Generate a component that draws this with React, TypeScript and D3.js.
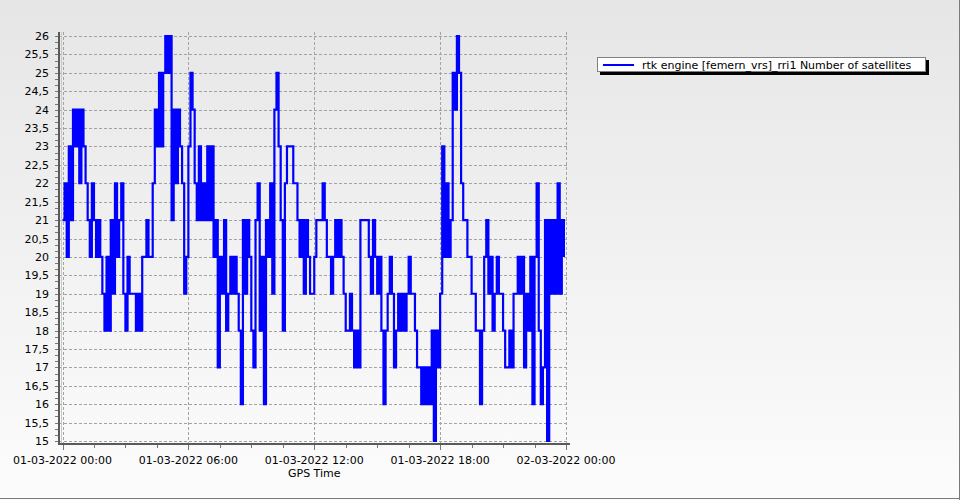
import { useEffect, useRef } from "react";
import * as d3 from "d3";

// GPS time axis: one sample every 6 minutes over 01-03-2022
const startTime = new Date(2022, 2, 1, 0, 0);
const endTime = new Date(2022, 2, 2, 0, 0);
const sampleMinutes = 6;

// rtk engine [femern_vrs]_rri1 number of satellites
const satellites = [
  21, 22, 20, 23, 21, 24, 23, 24, 22, 24,
  23, 22, 21, 20, 22, 21, 20, 21, 20, 19,
  18, 20, 18, 21, 19, 22, 20, 21, 22, 19,
  18, 20, 19, 19, 19, 18, 19, 18, 20, 20,
  21, 20, 20, 22, 24, 23, 25, 23, 25, 26,
  25, 26, 21, 24, 22, 24, 23, 22, 19, 20,
  23, 25, 24, 22, 21, 23, 21, 22, 21, 23,
  21, 23, 20, 21, 17, 20, 19, 21, 18, 19,
  20, 19, 20, 19, 18, 16, 21, 19, 21, 20,
  18, 17, 21, 22, 18, 20, 16, 21, 20, 22,
  19, 24, 25, 23, 21, 18, 22, 23, 23, 23,
  22, 22, 21, 20, 21, 19, 21, 20, 19, 19,
  20, 21, 21, 21, 22, 21, 20, 20, 19, 20,
  21, 20, 21, 20, 19, 18, 18, 19, 18, 17,
  18, 17, 21, 21, 21, 21, 20, 19, 21, 20,
  19, 20, 18, 16, 18, 19, 20, 19, 17, 18,
  19, 18, 19, 18, 19, 20, 19, 19, 18, 17,
  17, 16, 17, 16, 17, 16, 18, 15, 18, 17,
  19, 23, 20, 22, 20, 21, 25, 24, 26, 25,
  22, 21, 21, 20, 20, 19, 19, 18, 18, 16,
  18, 20, 21, 19, 20, 18, 19, 20, 19, 19,
  18, 17, 17, 18, 17, 19, 19, 20, 19, 20,
  17, 19, 18, 20, 16, 20, 22, 18, 16, 17,
  21, 15, 21, 19, 21, 19, 22, 19, 21, 20,
];

const yTicks = [15, 15.5, 16, 16.5, 17, 17.5, 18, 18.5, 19, 19.5, 20, 20.5, 21, 21.5, 22, 22.5, 23, 23.5, 24, 24.5, 25, 25.5, 26];
const xTickHours = [0, 6, 12, 18, 24];
const seriesName = "rtk engine [femern_vrs]_rri1 Number of satellites";
const xTitle = "GPS Time";

const FONT = "'DejaVu Sans', Verdana, sans-serif";

export default function App() {
  const svgRef = useRef<SVGSVGElement>(null);

  useEffect(() => {
    if (!svgRef.current) return;
    const svg = d3.select(svgRef.current);
    svg.selectAll("*").remove();

    const W = 960;
    const H = 500;
    const plot = { left: 59, right: 568, top: 32, bottom: 444 };

    // background gradient
    const defs = svg.append("defs");
    const grad = defs.append("linearGradient")
      .attr("id", "bg")
      .attr("x1", 0).attr("y1", 0).attr("x2", 0).attr("y2", 1);
    grad.append("stop").attr("offset", "0%").attr("stop-color", "#e6e6e6");
    grad.append("stop").attr("offset", "100%").attr("stop-color", "#fcfcfc");
    svg.append("rect").attr("width", W).attr("height", H).attr("fill", "url(#bg)");

    // outer frame (right + bottom)
    svg.append("line").attr("x1", W - 0.5).attr("x2", W - 0.5).attr("y1", 0).attr("y2", H)
      .attr("stroke", "#7a7a7a");
    svg.append("line").attr("x1", 0).attr("x2", W).attr("y1", H - 1.5).attr("y2", H - 1.5)
      .attr("stroke", "#7a7a7a").attr("stroke-width", 1);

    const xScale = d3.scaleTime()
      .domain([startTime, endTime])
      .range([62.5, 566]);

    const yScale = d3.scaleLinear()
      .domain([15, 26])
      .range([441, 36]);

    const times = satellites.map((_, i) => d3.timeMinute.offset(startTime, i * sampleMinutes));
    const tickDates = xTickHours.map(h => d3.timeHour.offset(startTime, h));
    const minorDates = d3.range(0, 24.01, 1.5).map(h => d3.timeMinute.offset(startTime, h * 60));
    const fmt = d3.timeFormat("%d-%m-%Y %H:%M");

    // grid
    const grid = svg.append("g")
      .attr("stroke", "#a3a3a3")
      .attr("stroke-dasharray", "3,2")
      .attr("shape-rendering", "crispEdges");
    grid.selectAll(".hg")
      .data(yTicks)
      .enter()
      .append("line")
      .attr("x1", plot.left)
      .attr("x2", plot.right)
      .attr("y1", d => Math.round(yScale(d)) + 0.5)
      .attr("y2", d => Math.round(yScale(d)) + 0.5);
    grid.selectAll(".vg")
      .data(tickDates)
      .enter()
      .append("line")
      .attr("x1", d => Math.round(xScale(d)) + 0.5)
      .attr("x2", d => Math.round(xScale(d)) + 0.5)
      .attr("y1", plot.top)
      .attr("y2", plot.bottom);

    // series
    const line = d3.line<number>()
      .x((_, i) => xScale(times[i]))
      .y(d => yScale(d))
      .curve(d3.curveStepAfter);

    svg.append("path")
      .datum(satellites)
      .attr("fill", "none")
      .attr("stroke", "#0000ff")
      .attr("stroke-width", 2.2)
      .attr("d", line);

    // axes lines
    const axes = svg.append("g").attr("shape-rendering", "crispEdges");
    axes.append("line")
      .attr("x1", plot.left).attr("x2", plot.left)
      .attr("y1", plot.top).attr("y2", plot.bottom + 1)
      .attr("stroke", "#5a5a5a").attr("stroke-width", 2);
    axes.append("line")
      .attr("x1", plot.left + 2).attr("x2", plot.left + 2)
      .attr("y1", plot.top).attr("y2", plot.bottom)
      .attr("stroke", "#c8c8c8").attr("stroke-width", 1);
    axes.append("line")
      .attr("x1", plot.left - 1).attr("x2", plot.right + 2)
      .attr("y1", plot.bottom).attr("y2", plot.bottom)
      .attr("stroke", "#5a5a5a").attr("stroke-width", 2);

    // y minor ticks
    axes.selectAll(".ymt")
      .data(d3.range(15, 26.01, 1 / 6))
      .enter()
      .append("line")
      .attr("x1", plot.left - 4)
      .attr("x2", plot.left - 1)
      .attr("y1", d => Math.round(yScale(d)) + 0.5)
      .attr("y2", d => Math.round(yScale(d)) + 0.5)
      .attr("stroke", "#777");

    // x ticks
    axes.selectAll(".xmt")
      .data(minorDates)
      .enter()
      .append("line")
      .attr("x1", d => Math.round(xScale(d)) + 0.5)
      .attr("x2", d => Math.round(xScale(d)) + 0.5)
      .attr("y1", plot.bottom + 1)
      .attr("y2", plot.bottom + 4)
      .attr("stroke", "#777");
    axes.selectAll(".xt")
      .data(tickDates)
      .enter()
      .append("line")
      .attr("x1", d => Math.round(xScale(d)) + 0.5)
      .attr("x2", d => Math.round(xScale(d)) + 0.5)
      .attr("y1", plot.bottom + 1)
      .attr("y2", plot.bottom + 6)
      .attr("stroke", "#777");

    // y labels
    svg.append("g")
      .selectAll("text")
      .data(yTicks)
      .enter()
      .append("text")
      .attr("x", 49)
      .attr("y", d => yScale(d) + 4)
      .attr("text-anchor", "end")
      .style("font-family", FONT)
      .style("font-size", "11px")
      .style("fill", "#000")
      .text(d => String(d).replace(".", ","));

    // x labels
    svg.append("g")
      .selectAll("text")
      .data(tickDates)
      .enter()
      .append("text")
      .attr("x", d => xScale(d))
      .attr("y", 464)
      .attr("text-anchor", "middle")
      .style("font-family", FONT)
      .style("font-size", "11px")
      .style("fill", "#000")
      .text(d => fmt(d));

    svg.append("text")
      .attr("x", xScale(d3.timeHour.offset(startTime, 12)))
      .attr("y", 477)
      .attr("text-anchor", "middle")
      .style("font-family", FONT)
      .style("font-size", "11px")
      .style("fill", "#000")
      .text(xTitle);

    // legend
    const lg = svg.append("g");
    lg.append("rect")
      .attr("x", 600).attr("y", 60)
      .attr("width", 329).attr("height", 15)
      .attr("fill", "#000");
    lg.append("rect")
      .attr("x", 597.5).attr("y", 57.5)
      .attr("width", 328).attr("height", 14)
      .attr("fill", "#fff")
      .attr("stroke", "#808080");
    lg.append("line")
      .attr("x1", 603).attr("x2", 634)
      .attr("y1", 65).attr("y2", 65)
      .attr("stroke", "#0000ff")
      .attr("stroke-width", 2);
    lg.append("text")
      .attr("x", 642)
      .attr("y", 69)
      .style("font-family", FONT)
      .style("font-size", "11px")
      .style("fill", "#000")
      .text(seriesName);
  }, []);

  return (
    <div style={{ position: "absolute", left: 0, top: 0, width: 960, height: 500 }}>
      <svg ref={svgRef} width={960} height={500} style={{ display: "block" }} />
    </div>
  );
}
